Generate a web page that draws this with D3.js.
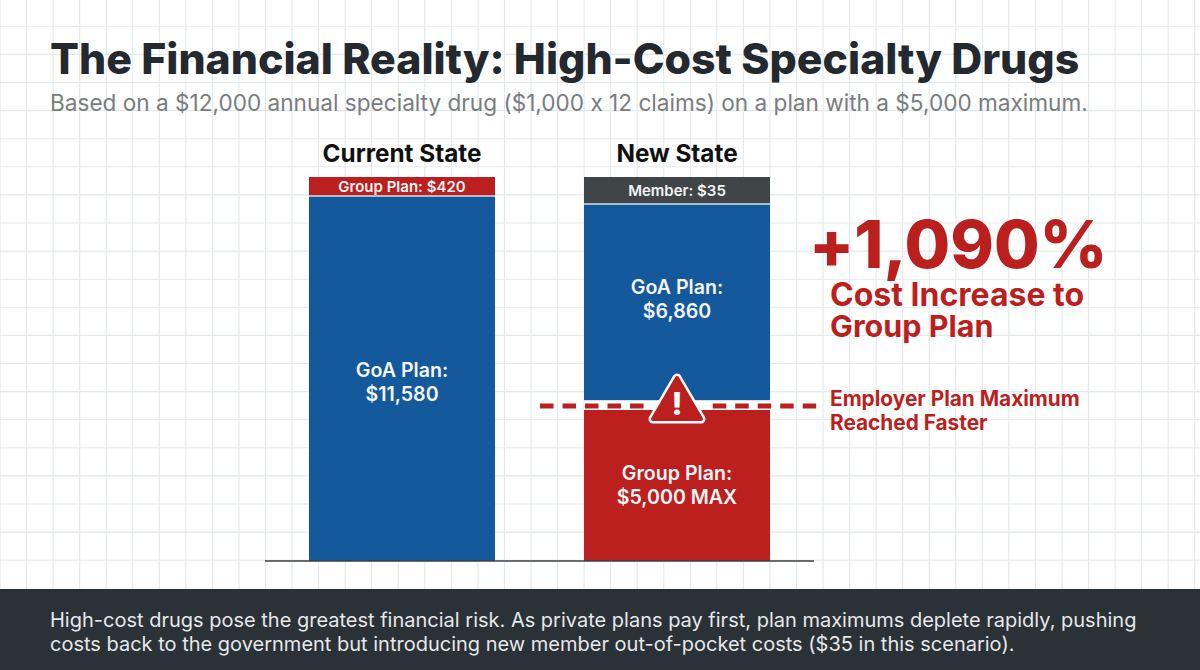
<!DOCTYPE html>
<html>
<head>
<meta charset="utf-8">
<script src="https://cdn.jsdelivr.net/npm/d3@7"></script>
<style>
  html, body { margin: 0; padding: 0; background: #fff; }
  svg { display: block; }
  text { font-family: Inter, "Noto Sans", sans-serif; font-feature-settings: "calt" 0; }
</style>
</head>
<body>
<div id="chart"></div>
<script>
var title = "The Financial Reality: High-Cost Specialty Drugs";
var subtitle = "Based on a $12,000 annual specialty drug ($1,000 x 12 claims) on a plan with a $5,000 maximum.";
var footerLines = [
    "High-cost drugs pose the greatest financial risk. As private plans pay first, plan maximums deplete rapidly, pushing",
    "costs back to the government but introducing new member out-of-pocket costs ($35 in this scenario)."
];

var columns = ["Current State", "New State"];
var currentSegments = ["GoA Plan", "Group Plan"];
var currentValues = [11580, 420];
var currentLabels = [["GoA Plan:", "$11,580"], ["Group Plan: $420"]];
var newSegments = ["Group Plan", "GoA Plan", "Member"];
var newValues = [5000, 6860, 35];
var newLabels = [["Group Plan:", "$5,000 MAX"], ["GoA Plan:", "$6,860"], ["Member: $35"]];

var calloutValue = "+1,090%";
var calloutLines = ["Cost Increase to", "Group Plan"];
var maxLabel = ["Employer Plan Maximum", "Reached Faster"];
var employerMaximum = 5000;

var width = 1200, height = 670;
var baseline = 561, barTop = 177;
var blue = "#14599b", red = "#bb1f1e", dark = "#404548", ink = "#23292e";

var svg = d3.select("#chart").append("svg")
    .attr("width", width)
    .attr("height", height);

// background grid
var gridX = d3.range(0, width + 1, 26.55);
var gridY = d3.range(26.3, 588, 28.1);
svg.append("g").selectAll("line").data(gridX).join("line")
    .attr("x1", function(d) { return d; }).attr("x2", function(d) { return d; })
    .attr("y1", 0).attr("y2", 589)
    .attr("stroke", "#e4e9ed").attr("stroke-width", 1.1);
svg.append("g").selectAll("line").data(gridY).join("line")
    .attr("x1", 0).attr("x2", width)
    .attr("y1", function(d) { return d; }).attr("y2", function(d) { return d; })
    .attr("stroke", "#e4e9ed").attr("stroke-width", 1.1);

// heading
svg.append("text")
    .attr("x", 50).attr("y", 74)
    .attr("font-size", 42.8).attr("font-weight", 800)
    .attr("fill", ink)
    .text(title);
svg.append("text")
    .attr("x", 50).attr("y", 111)
    .attr("font-size", 22.6).attr("fill", "#7a7d80")
    .text(subtitle);

// scales
var x = d3.scaleBand().domain(columns).range([309, 770]).paddingInner(89 / 275).paddingOuter(0);

// the picture is not to scale, small shares are enlarged so each column gets its own breaks
var yCurrent = d3.scaleLinear()
    .domain([0, 11580, 12000])
    .range([baseline, 196, barTop]);
var yNew = d3.scaleLinear()
    .domain([0, 5000, 11860, 11895])
    .range([baseline, 401, 204, barTop]);

function drawColumn(name, names, values, labels, y, goaShift) {
    var start = 0;
    var rows = values.map(function(v, i) {
        var row = { name: names[i], y0: start, y1: start + v, label: labels[i] };
        start += v;
        return row;
    });
    var g = svg.append("g");
    g.selectAll("rect").data(rows).join("rect")
        .attr("x", x(name))
        .attr("width", x.bandwidth())
        .attr("y", function(d) { return y(d.y1); })
        .attr("height", function(d) { return y(d.y0) - y(d.y1); })
        .attr("fill", function(d) {
            return d.name == "GoA Plan" ? blue : d.name == "Group Plan" ? red : dark;
        });
    // thin white seam between segments
    g.selectAll("line").data(rows.slice(0, -1)).join("line")
        .attr("x1", x(name)).attr("x2", x(name) + x.bandwidth())
        .attr("y1", function(d) { return y(d.y1); })
        .attr("y2", function(d) { return y(d.y1); })
        .attr("stroke", "#d3e0ec").attr("stroke-width", 1.5);

    g.selectAll("text.seg").data(rows).join("text")
        .attr("class", "seg")
        .attr("text-anchor", "middle")
        .attr("fill", "#f4f5f7")
        .attr("font-weight", 600)
        .attr("font-size", function(d) { return d.label.length == 1 ? 15 : 19.6; })
        .each(function(d) {
            var mid = (y(d.y0) + y(d.y1)) / 2;
            if (d.name == "GoA Plan") mid += goaShift;
            var sel = d3.select(this);
            if (d.label.length == 1) {
                sel.append("tspan")
                    .attr("x", x(name) + x.bandwidth() / 2)
                    .attr("y", mid + 5.5)
                    .text(d.label[0]);
            } else {
                d.label.forEach(function(t, i) {
                    sel.append("tspan")
                        .attr("x", x(name) + x.bandwidth() / 2)
                        .attr("y", mid + (i == 0 ? -1.5 : 22.5))
                        .text(t);
                });
            }
        });

    svg.append("text")
        .attr("x", x(name) + x.bandwidth() / 2)
        .attr("y", 162)
        .attr("text-anchor", "middle")
        .attr("font-size", 24.3).attr("font-weight", 700)
        .attr("fill", "#111")
        .text(name);
}

drawColumn(columns[0], currentSegments, currentValues, currentLabels, yCurrent, 0);
drawColumn(columns[1], newSegments, newValues, newLabels, yNew, -7.5);

// baseline
svg.append("line")
    .attr("x1", 265).attr("x2", 814)
    .attr("y1", baseline).attr("y2", baseline)
    .attr("stroke", "#3a3f44").attr("stroke-width", 1.5);

// plan maximum marker
var maxY = yNew(employerMaximum) + 5;
var nb = x(columns[1]);
svg.append("rect")
    .attr("x", nb).attr("width", x.bandwidth())
    .attr("y", maxY - 5.5).attr("height", 9.5)
    .attr("fill", "#fff");
[[540, 644], [712.7, 818]].forEach(function(seg) {
    svg.append("line")
        .attr("x1", seg[0]).attr("x2", seg[1])
        .attr("y1", maxY).attr("y2", maxY)
        .attr("stroke", red).attr("stroke-width", 5)
        .attr("stroke-dasharray", "13.5 9");
});

var cx = nb + x.bandwidth() / 2;
var triangle = "M" + cx + " " + (maxY - 28) + "L" + (cx + 24) + " " + (maxY + 13) + "L" + (cx - 24) + " " + (maxY + 13) + "Z";
svg.append("path")
    .attr("d", triangle)
    .attr("fill", "#fff").attr("stroke", "#fff").attr("stroke-width", 9).attr("stroke-linejoin", "round");
svg.append("path")
    .attr("d", triangle)
    .attr("fill", red).attr("stroke", red).attr("stroke-width", 4).attr("stroke-linejoin", "round");
svg.append("text")
    .attr("x", cx).attr("y", maxY + 9)
    .attr("text-anchor", "middle")
    .attr("font-size", 31).attr("font-weight", 800).attr("fill", "#fff")
    .text("!");

maxLabel.forEach(function(t, i) {
    svg.append("text")
        .attr("x", 830).attr("y", 405.5 + i * 24.5)
        .attr("font-size", 20.8).attr("font-weight", 700).attr("fill", red)
        .text(t);
});

// callout
svg.append("text")
    .attr("x", 809).attr("y", 268)
    .attr("font-size", 66).attr("font-weight", 800).attr("fill", red)
    .text(calloutValue);
calloutLines.forEach(function(t, i) {
    svg.append("text")
        .attr("x", 830).attr("y", 306 + i * 31)
        .attr("font-size", i == 0 ? 32 : 30.5).attr("font-weight", 700).attr("fill", red)
        .text(t);
});

// footer
svg.append("rect")
    .attr("x", 0).attr("y", 589).attr("width", width).attr("height", 81)
    .attr("fill", "#2a3137");
footerLines.forEach(function(t, i) {
    svg.append("text")
        .attr("x", 50).attr("y", 627 + i * 24)
        .attr("font-size", 20).attr("fill", "#e6e8ea")
        .text(t);
});
</script>
</body>
</html>
